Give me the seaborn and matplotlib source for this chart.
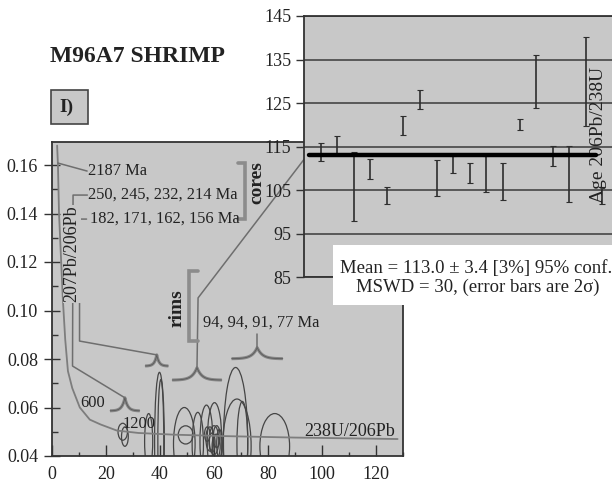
import numpy as np
import matplotlib
matplotlib.use("Agg")
import matplotlib.pyplot as plt
from matplotlib.patches import Ellipse, Rectangle
from matplotlib.ticker import MultipleLocator, FormatStrFormatter
import seaborn as sns

# ---- Tera-Wasserburg diagram: 2-sigma error ellipses ----
# centre 238U/206Pb, centre 207Pb/206Pb, full width, full height
ell_x = [39.8, 40.3, 35.8, 49.0, 49.5, 54.0, 57.2, 60.2, 68.0, 68.5, 70.5, 82.5,
         26.2, 27.0, 58.5, 60.0, 61.0, 59.3, 60.8, 57.5, 62.0]
ell_y = [0.046, 0.046, 0.046, 0.045, 0.0487, 0.045, 0.046, 0.046, 0.046, 0.044, 0.045, 0.044,
         0.050, 0.048, 0.047, 0.0465, 0.048, 0.0455, 0.044, 0.049, 0.045]
ell_w = [3.6, 2.2, 3.0, 8.0, 5.5, 4.2, 4.8, 5.4, 9.0, 10.5, 4.0, 11.0,
         3.5, 2.5, 3.0, 3.5, 2.5, 2.2, 3.0, 2.0, 2.0]
ell_h = [0.057, 0.051, 0.023, 0.030, 0.0075, 0.026, 0.030, 0.032, 0.061, 0.039, 0.035, 0.027,
         0.007, 0.008, 0.010, 0.012, 0.009, 0.008, 0.010, 0.006, 0.012]

# concordia trace
conc_x = [1.9, 2.2, 2.6, 3.2, 4.0, 4.9, 5.9, 7.5, 10.3, 14.0, 18.0, 24.0, 32.0, 45.0, 64.0, 90.0, 128.0]
conc_y = [0.168, 0.160, 0.140, 0.125, 0.105, 0.088, 0.075, 0.068, 0.060, 0.055, 0.053,
          0.0505, 0.0495, 0.0488, 0.0482, 0.0476, 0.0470]

# ---- weighted mean panel: 206Pb/238U spot ages (Ma) with 2-sigma errors ----
spot = list(range(1, 19))
age = [113.8, 115.2, 105.8, 109.8, 103.8, 119.8, 125.8, 107.8, 110.8,
       108.9, 108.7, 106.9, 120.1, 129.9, 112.8, 108.7, 129.9, 103.8]
err2s = [2.1, 2.2, 8.0, 2.3, 2.0, 2.2, 2.2, 4.2, 2.0,
         2.2, 4.1, 4.2, 1.3, 6.1, 2.3, 6.4, 10.2, 2.0]
mean_age = 113.0
mean_err = 3.4
mswd = 30

# probability-peak glyphs: centre x, baseline y, half width, peak height
peak_x = [38.8, 27.0, 53.7, 76.0]
peak_base = [0.0771, 0.0586, 0.0713, 0.0801]
peak_hw = [4.3, 5.5, 9.2, 9.5]
peak_h = [0.0046, 0.0054, 0.0051, 0.0046]

sns.set_theme(style="ticks")
plt.rcParams["font.family"] = ["Liberation Serif", "DejaVu Serif"]

GRAY = "#c8c8c8"
INK = "#222222"
GLYPH = "#858585"

fig = plt.figure(figsize=(6.12, 4.87), dpi=100)
W, H = 612.0, 487.0

# ---------------- main Tera-Wasserburg axes ----------------
ax = fig.add_axes([52 / W, 1 - 456 / H, 351 / W, 314 / H])
ax.set_facecolor(GRAY)
ax.set_xlim(0, 130)
ax.set_ylim(0.04, 0.04 + 314 / 48.5 * 0.02)
ax.xaxis.set_major_locator(MultipleLocator(20))
ax.xaxis.set_minor_locator(MultipleLocator(10))
ax.yaxis.set_major_locator(MultipleLocator(0.02))
ax.yaxis.set_minor_locator(MultipleLocator(0.01))
ax.yaxis.set_major_formatter(FormatStrFormatter("%.2f"))
ax.tick_params(axis="x", which="major", direction="in", length=8, width=1, color="#333",
               labelsize=13, labelcolor=INK, pad=7)
ax.tick_params(axis="x", which="minor", direction="in", length=3, width=1, color="#333")
ax.tick_params(axis="y", which="major", direction="inout", length=12, width=1, color="#333",
               labelsize=13, labelcolor=INK, pad=4)
ax.tick_params(axis="y", which="minor", direction="in", length=4, width=1, color="#333")
for s in ax.spines.values():
    s.set_color("#333333")
    s.set_linewidth(1.3)

sns.lineplot(x=conc_x, y=conc_y, ax=ax, sort=False, estimator=None, color="#7d7d7d", lw=1.3)

for cx, cy, w, h in zip(ell_x, ell_y, ell_w, ell_h):
    ax.add_patch(Ellipse((cx, cy), w, h, fill=False, edgecolor="#454545", lw=0.9))

# probability peaks
for px, pb, hw, ph in zip(peak_x, peak_base, peak_hw, peak_h):
    u = np.linspace(-1, 1, 101)
    ax.plot(px + u * hw, pb + ph * np.exp(-5 * np.abs(u)), color=GLYPH, lw=2.2,
            solid_capstyle="butt")
    ax.plot(px + u * hw, pb + ph * np.exp(-5 * np.abs(u)), color="#5a5a5a", lw=0.6)

# leader lines
leader_kw = dict(color="#6e6e6e", lw=1.1, clip_on=False)
ax.plot([2.2, 13.0], [0.1608, 0.1575], **leader_kw)
ax.plot([13.1, 7.8, 7.6, 27.0], [0.1476, 0.1476, 0.0771, 0.0640], **leader_kw)
ax.plot([12.8, 10.2, 10.2, 38.8], [0.1377, 0.1377, 0.0874, 0.0817], **leader_kw)
ax.plot([94.5, 54.1, 53.7], [0.1640, 0.1052, 0.0764], **leader_kw)
ax.plot([76.0, 76.0], [0.0847, 0.0903], **leader_kw)

# group brackets
br_kw = dict(color="#8c8c8c", lw=2.6, solid_joinstyle="miter")
ax.plot([68.9, 71.3, 71.3, 68.9], [0.1608, 0.1608, 0.1377, 0.1377], **br_kw)
ax.plot([53.9, 50.6, 50.6, 53.9], [0.1163, 0.1163, 0.0874, 0.0874], **br_kw)

txt = dict(color=INK, fontsize=11.8)
ax.text(13.3, 0.1575, "2187 Ma", ha="left", va="center", **txt)
ax.text(13.3, 0.1476, "250, 245, 232, 214 Ma", ha="left", va="center", **txt)
ax.text(14.0, 0.1377, "182, 171, 162, 156 Ma", ha="left", va="center", **txt)
ax.text(55.9, 0.0949, "94, 94, 91, 77 Ma", ha="left", va="center", **txt)
ax.text(10.4, 0.0620, "600", ha="left", va="center", **txt)
ax.text(26.3, 0.0532, "1200", ha="left", va="center", **txt)
ax.text(127.0, 0.0503, "238U/206Pb", ha="right", va="center", color=INK, fontsize=13)
ax.text(7.4, 0.1233, "207Pb/206Pb", ha="center", va="center", rotation=90, color=INK,
        fontsize=13, bbox=dict(facecolor=GRAY, edgecolor="none", pad=0.5))
ax.text(75.9, 0.1526, "cores", ha="center", va="center", rotation=90, color=INK,
        fontsize=14, fontweight="bold")
ax.text(46.3, 0.1010, "rims", ha="center", va="center", rotation=90, color=INK,
        fontsize=14, fontweight="bold")

# ---------------- weighted mean inset ----------------
ax2 = fig.add_axes([304 / W, 1 - 277 / H, 315 / W, 261 / H])
ax2.set_zorder(2)
ax2.set_facecolor(GRAY)
ax2.set_xlim(0, 19)
ax2.set_ylim(85, 145)
ax2.set_yticks(np.arange(85, 146, 10))
ax2.set_xticks([])
ax2.grid(axis="y", color="#505050", lw=1.3)
ax2.tick_params(axis="y", direction="out", length=6, width=1, color="#333",
                labelsize=13, labelcolor=INK, pad=3)
for s in ax2.spines.values():
    s.set_color("#333333")
    s.set_linewidth(1.3)

ax2.errorbar(spot, age, yerr=err2s, fmt="none", ecolor="#2e2e2e", elinewidth=1.2,
             capsize=2, capthick=0.8, zorder=3)
sns.lineplot(x=[0.3, 17.6], y=[mean_age, mean_age], ax=ax2, color="black", lw=3.2, zorder=4)
ax2.text(17.75, 117.6, "Age 206Pb/238U", rotation=90, ha="center", va="center",
         color=INK, fontsize=14)

# statistics box
fig.add_artist(Rectangle((333 / W, 1 - 305 / H), 290 / W, 60 / H, transform=fig.transFigure,
                         facecolor="white", edgecolor="none", zorder=5))
fig.text(476 / W, 1 - 268 / H,
         f"Mean = {mean_age:.1f} \u00b1 {mean_err:.1f} [3%] 95% conf.",
         ha="center", va="center", fontsize=13.5, color=INK, zorder=6)
fig.text(478 / W, 1 - 287 / H, f"MSWD = {mswd}, (error bars are 2\u03c3)",
         ha="center", va="center", fontsize=13.5, color=INK, zorder=6)

# title and panel tag
fig.text(50 / W, 1 - 57 / H, "M96A7 SHRIMP", ha="left", va="center", fontsize=17,
         fontweight="bold", color=INK)
fig.add_artist(Rectangle((51 / W, 1 - 124 / H), 37 / W, 34 / H, transform=fig.transFigure,
                         facecolor=GRAY, edgecolor="#444444", lw=1.2, zorder=5))
fig.text(66 / W, 1 - 107 / H, "I)", ha="center", va="center", fontsize=14,
         fontweight="bold", color=INK, zorder=6)

fig.savefig("out.png", dpi=100, facecolor="white")
